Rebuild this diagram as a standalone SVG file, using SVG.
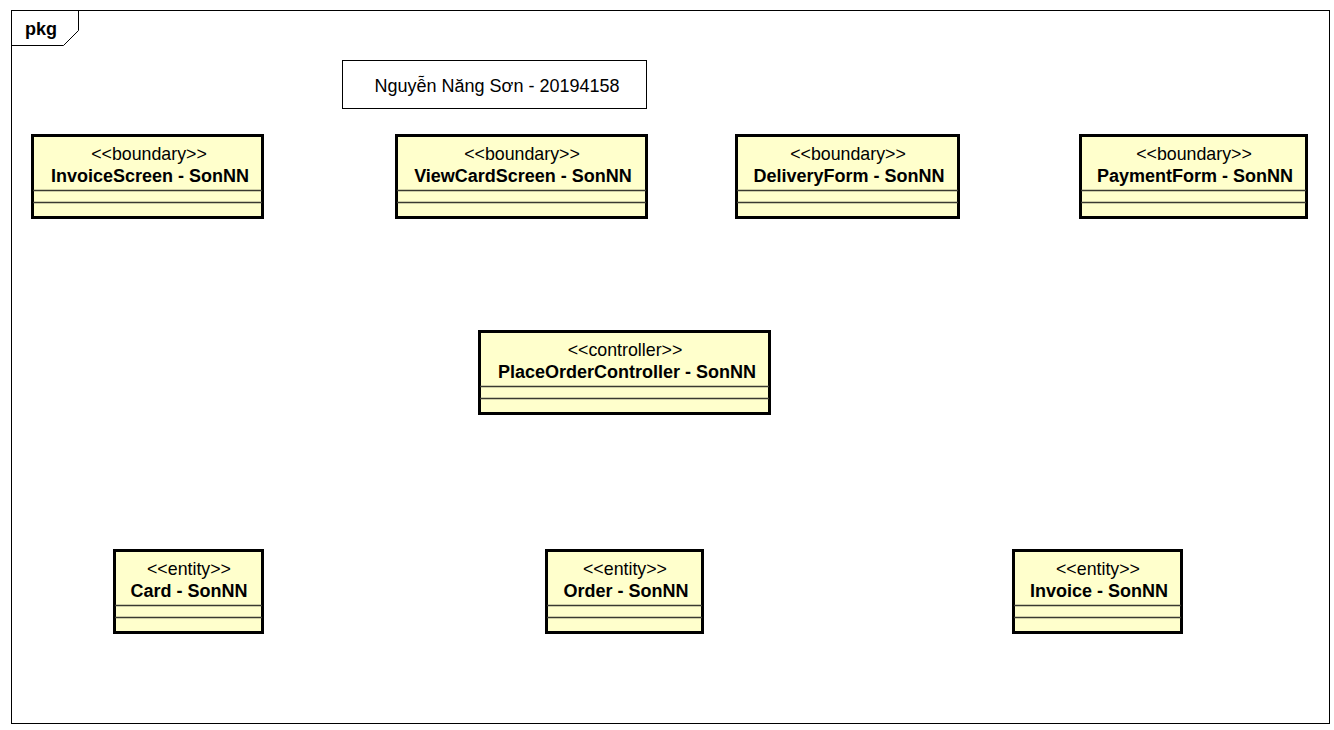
<svg xmlns="http://www.w3.org/2000/svg" width="1334" height="730" viewBox="0 0 1334 730">
<style>
.frame{fill:#ffffff;stroke:#000;stroke-width:1}
.cls{fill:#ffffcc;stroke:#000;stroke-width:3}
.sep{stroke:#3a3a30;stroke-width:1.5}
.st{font-family:"Liberation Sans",Arial,sans-serif;font-size:17.8px;fill:#000;text-anchor:middle}
.nm{font-family:"Liberation Sans",Arial,sans-serif;font-size:18px;font-weight:bold;fill:#000;text-anchor:middle}
.note{fill:#fff;stroke:#000;stroke-width:1}
.nt{font-family:"Liberation Sans",Arial,sans-serif;font-size:18px;fill:#000;text-anchor:middle}
</style>
<rect x="0" y="0" width="1334" height="730" fill="#fff"/>
<g id="frame">
<rect class="frame" x="11.5" y="10.5" width="1318" height="713"/>
<path d="M11.5,45.5 H63.5 L78.5,30.5 V10.5" fill="none" stroke="#000" stroke-width="1"/>
<text x="25" y="35" font-family="Liberation Sans,Arial,sans-serif" font-size="18" font-weight="bold">pkg</text>
</g>
<g id="note">
<rect class="note" x="342.5" y="60.5" width="304" height="48"/>
<text class="nt" x="497" y="92">Nguyễn Năng Sơn - 20194158</text>
</g>
<g id="InvoiceScreen">
<rect class="cls" x="32.5" y="135.5" width="230" height="82"/>
<line class="sep" x1="33" y1="190.5" x2="262" y2="190.5"/>
<line class="sep" x1="33" y1="202.5" x2="262" y2="202.5"/>
<text class="st" x="149" y="160">&lt;&lt;boundary&gt;&gt;</text>
<text class="nm" x="150" y="182">InvoiceScreen - SonNN</text>
</g>
<g id="ViewCardScreen">
<rect class="cls" x="396.5" y="135.5" width="250" height="82"/>
<line class="sep" x1="397" y1="190.5" x2="646" y2="190.5"/>
<line class="sep" x1="397" y1="202.5" x2="646" y2="202.5"/>
<text class="st" x="522" y="160">&lt;&lt;boundary&gt;&gt;</text>
<text class="nm" x="523" y="182">ViewCardScreen - SonNN</text>
</g>
<g id="DeliveryForm">
<rect class="cls" x="736.5" y="135.5" width="222" height="82"/>
<line class="sep" x1="737" y1="190.5" x2="958" y2="190.5"/>
<line class="sep" x1="737" y1="202.5" x2="958" y2="202.5"/>
<text class="st" x="848" y="160">&lt;&lt;boundary&gt;&gt;</text>
<text class="nm" x="849" y="182">DeliveryForm - SonNN</text>
</g>
<g id="PaymentForm">
<rect class="cls" x="1080.5" y="135.5" width="226" height="82"/>
<line class="sep" x1="1081" y1="190.5" x2="1306" y2="190.5"/>
<line class="sep" x1="1081" y1="202.5" x2="1306" y2="202.5"/>
<text class="st" x="1194" y="160">&lt;&lt;boundary&gt;&gt;</text>
<text class="nm" x="1195" y="182">PaymentForm - SonNN</text>
</g>
<g id="PlaceOrderController">
<rect class="cls" x="479.5" y="331.5" width="290" height="82"/>
<line class="sep" x1="480" y1="386.5" x2="769" y2="386.5"/>
<line class="sep" x1="480" y1="398.5" x2="769" y2="398.5"/>
<text class="st" x="625" y="356">&lt;&lt;controller&gt;&gt;</text>
<text class="nm" x="627" y="378">PlaceOrderController - SonNN</text>
</g>
<g id="Card">
<rect class="cls" x="114.5" y="550.5" width="148" height="82"/>
<line class="sep" x1="115" y1="605.5" x2="262" y2="605.5"/>
<line class="sep" x1="115" y1="617.5" x2="262" y2="617.5"/>
<text class="st" x="189" y="575">&lt;&lt;entity&gt;&gt;</text>
<text class="nm" x="189" y="597">Card - SonNN</text>
</g>
<g id="Order">
<rect class="cls" x="546.5" y="550.5" width="156" height="82"/>
<line class="sep" x1="547" y1="605.5" x2="702" y2="605.5"/>
<line class="sep" x1="547" y1="617.5" x2="702" y2="617.5"/>
<text class="st" x="625" y="575">&lt;&lt;entity&gt;&gt;</text>
<text class="nm" x="626" y="597">Order - SonNN</text>
</g>
<g id="Invoice">
<rect class="cls" x="1013.5" y="550.5" width="168" height="82"/>
<line class="sep" x1="1014" y1="605.5" x2="1181" y2="605.5"/>
<line class="sep" x1="1014" y1="617.5" x2="1181" y2="617.5"/>
<text class="st" x="1098" y="575">&lt;&lt;entity&gt;&gt;</text>
<text class="nm" x="1099" y="597">Invoice - SonNN</text>
</g>
<g id="connectors"></g>
</svg>
